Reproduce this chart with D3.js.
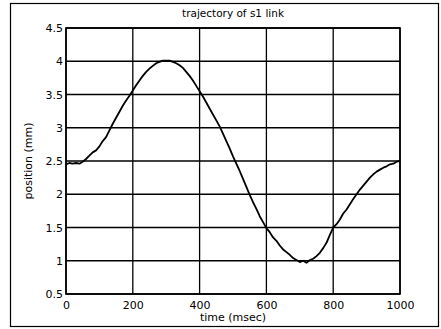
<!DOCTYPE html>
<html>
<head>
<meta charset="utf-8">
<script src="https://cdn.jsdelivr.net/npm/d3@7"></script>
<style>
  html, body { margin: 0; padding: 0; background: #fff; }
  svg { display: block; }
  text { font-family: "DejaVu Sans", "Liberation Sans", Arial, sans-serif; fill: #000; }
</style>
</head>
<body>
<svg id="chart" width="441" height="329"></svg>
<script>
// Sampled position of the s1 link, one reading every 10 msec
const timeMs = d3.range(0, 1001, 10);
const positionMm = [
  2.45, 2.47, 2.46, 2.47, 2.46, 2.49, 2.53, 2.58, 2.63, 2.66,
  2.72, 2.80, 2.86, 2.96, 3.06, 3.15, 3.24, 3.33, 3.41, 3.48,
  3.56, 3.64, 3.71, 3.78, 3.84, 3.89, 3.93, 3.97, 3.99, 4.01,
  4.01, 4.01, 3.99, 3.97, 3.94, 3.90, 3.84, 3.78, 3.71, 3.63,
  3.55, 3.47, 3.38, 3.29, 3.20, 3.11, 3.02, 2.91, 2.80, 2.69,
  2.57, 2.46, 2.35, 2.23, 2.11, 1.99, 1.88, 1.78, 1.67, 1.58,
  1.49, 1.43, 1.35, 1.30, 1.23, 1.17, 1.13, 1.09, 1.04, 1.01,
  0.98, 1.00, 0.97, 1.01, 1.03, 1.07, 1.12, 1.19, 1.27, 1.39,
  1.50, 1.55, 1.62, 1.71, 1.77, 1.85, 1.93, 2.00, 2.07, 2.13,
  2.19, 2.25, 2.30, 2.34, 2.37, 2.40, 2.42, 2.45, 2.46, 2.49,
  2.50
];
const xTicks = [0, 200, 400, 600, 800, 1000];
const yTicks = [0.5, 1, 1.5, 2, 2.5, 3, 3.5, 4, 4.5];
const yTickLabels = ["0.5", "1", "1.5", "2", "2.5", "3", "3.5", "4", "4.5"];

const svg = d3.select("#chart");
const W = 441, H = 329;
const plot = { left: 66, top: 28, right: 400, bottom: 294 };

// Outer figure frame
svg.append("rect")
  .attr("x", 10.5).attr("y", 3.5)
  .attr("width", 428).attr("height", 323)
  .attr("fill", "none").attr("stroke", "#000").attr("stroke-width", 1.2);

const x = d3.scaleLinear().domain([0, 1000]).range([plot.left, plot.right]);
const y = d3.scaleLinear().domain([0.5, 4.5]).range([plot.bottom, plot.top]);

// Grid
const grid = svg.append("g").attr("stroke", "#000").attr("stroke-width", 1.3);
grid.selectAll("line.v").data(xTicks).join("line")
  .attr("x1", d => x(d)).attr("x2", d => x(d))
  .attr("y1", plot.top).attr("y2", plot.bottom);
grid.selectAll("line.h").data(yTicks).join("line")
  .attr("x1", plot.left).attr("x2", plot.right)
  .attr("y1", d => y(d)).attr("y2", d => y(d));

// Axes (labels only; the grid carries the lines)
const xAxis = svg.append("g")
  .attr("transform", `translate(0,${plot.bottom})`)
  .call(d3.axisBottom(x).tickValues(xTicks).tickSize(0).tickPadding(7).tickFormat(d3.format("d")));
const yAxis = svg.append("g")
  .attr("transform", `translate(${plot.left},0)`)
  .call(d3.axisLeft(y).tickValues(yTicks).tickSize(0).tickPadding(3)
    .tickFormat((d, i) => yTickLabels[i]));
[xAxis, yAxis].forEach(a => {
  a.select(".domain").remove();
  a.selectAll("text").attr("font-size", 11).attr("font-family", "DejaVu Sans, sans-serif");
});

// Plot box
svg.append("rect")
  .attr("x", plot.left).attr("y", plot.top)
  .attr("width", plot.right - plot.left).attr("height", plot.bottom - plot.top)
  .attr("fill", "none").attr("stroke", "#000").attr("stroke-width", 1.6);

// Trajectory
const line = d3.line()
  .x((d, i) => x(timeMs[i]))
  .y(d => y(d));
svg.append("path")
  .datum(positionMm)
  .attr("d", line)
  .attr("fill", "none")
  .attr("stroke", "#000")
  .attr("stroke-width", 1.8)
  .attr("stroke-linejoin", "round");

// Titles
const cx = (plot.left + plot.right) / 2;
svg.append("text")
  .attr("x", cx).attr("y", 17)
  .attr("text-anchor", "middle").attr("font-size", 10.5)
  .text("trajectory of s1 link");
svg.append("text")
  .attr("x", cx).attr("y", 321)
  .attr("text-anchor", "middle").attr("font-size", 11)
  .text("time (msec)");
svg.append("text")
  .attr("transform", `translate(32,${(plot.top + plot.bottom) / 2}) rotate(-90)`)
  .attr("text-anchor", "middle").attr("font-size", 11)
  .text("position (mm)");
</script>
</body>
</html>
